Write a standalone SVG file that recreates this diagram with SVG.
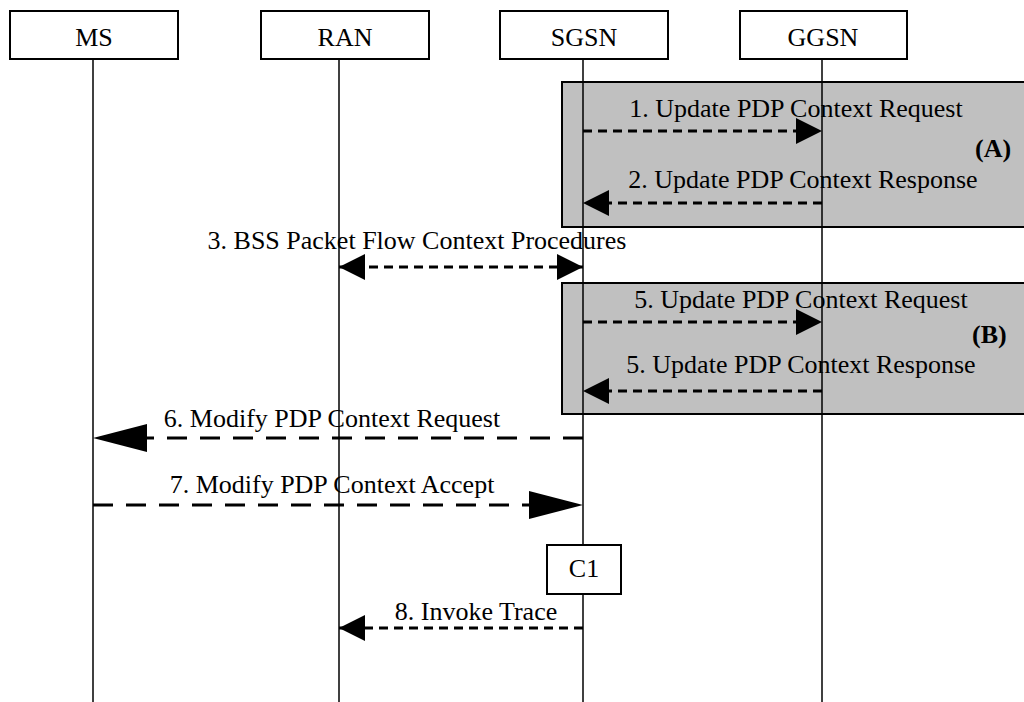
<svg xmlns="http://www.w3.org/2000/svg" width="1024" height="702" viewBox="0 0 1024 702">
<style>
text{font-family:"Liberation Serif","Times New Roman",serif;font-size:26px;fill:#000}
.m{text-anchor:middle}
.b{font-weight:bold}
.box{fill:#fff;stroke:#000;stroke-width:2}
.grp{fill:#c0c0c0;stroke:#000;stroke-width:2}
.life{stroke:#000;stroke-width:1.5;fill:none}
.sd{stroke:#000;stroke-width:3;stroke-dasharray:9 6;fill:none}
.ld{stroke:#000;stroke-width:3;stroke-dasharray:20 13;fill:none}
</style>
<defs>
<marker id="hs" markerUnits="userSpaceOnUse" markerWidth="27" markerHeight="27" refX="26" refY="13" orient="auto-start-reverse"><path d="M0,0 L26,13 L0,26 z" fill="#000"/></marker>
<marker id="hl" markerUnits="userSpaceOnUse" markerWidth="55" markerHeight="29" refX="54" refY="14" orient="auto-start-reverse"><path d="M0,0 L54,14 L0,28 z" fill="#000"/></marker>
</defs>
<g id="groupA"><rect class="grp" x="562" y="82" width="470" height="145"/><text class="b" x="975" y="157">(A)</text></g>
<g id="groupB"><rect class="grp" x="562" y="283" width="470" height="131"/><text class="b" x="972" y="343">(B)</text></g>
<g id="MS"><rect class="box" x="10" y="11" width="168" height="48"/><text class="m" x="94" y="46">MS</text><line class="life" x1="93" y1="59" x2="93" y2="702"/></g>
<g id="RAN"><rect class="box" x="261" y="11" width="168" height="48"/><text class="m" x="345" y="46">RAN</text><line class="life" x1="339" y1="59" x2="339" y2="702"/></g>
<g id="SGSN"><rect class="box" x="500" y="11" width="168" height="48"/><text class="m" x="584" y="46">SGSN</text><line class="life" x1="583" y1="59" x2="583" y2="545"/><line class="life" x1="583" y1="594" x2="583" y2="702"/></g>
<g id="GGSN"><rect class="box" x="740" y="11" width="167" height="48"/><text class="m" x="823" y="46">GGSN</text><line class="life" x1="822" y1="59" x2="822" y2="702"/></g>
<g id="C1"><rect class="box" x="547" y="545" width="74" height="49"/><text class="m" x="584" y="577">C1</text></g>
<g id="connectors">
<line class="sd" x1="583" y1="131" x2="822" y2="131" marker-end="url(#hs)"/>
<text class="m" x="796" y="117">1. Update PDP Context Request</text>
<line class="sd" x1="822" y1="203" x2="583" y2="203" marker-end="url(#hs)"/>
<text class="m" x="803" y="188">2. Update PDP Context Response</text>
<line class="sd" x1="339" y1="267" x2="583" y2="267" marker-start="url(#hs)" marker-end="url(#hs)"/>
<text class="m" x="417" y="249">3. BSS Packet Flow Context Procedures</text>
<line class="sd" x1="583" y1="322" x2="822" y2="322" marker-end="url(#hs)"/>
<text class="m" x="801" y="308">5. Update PDP Context Request</text>
<line class="sd" x1="822" y1="391" x2="583" y2="391" marker-end="url(#hs)"/>
<text class="m" x="801" y="373">5. Update PDP Context Response</text>
<line class="ld" x1="583" y1="438" x2="93" y2="438" marker-end="url(#hl)"/>
<text class="m" x="332" y="427">6. Modify PDP Context Request</text>
<line class="ld" x1="93" y1="505" x2="583" y2="505" marker-end="url(#hl)"/>
<text class="m" x="332" y="493">7. Modify PDP Context Accept</text>
<line class="sd" x1="583" y1="628" x2="339" y2="628" marker-end="url(#hs)"/>
<text class="m" x="476" y="620">8. Invoke Trace</text>
</g>
</svg>
